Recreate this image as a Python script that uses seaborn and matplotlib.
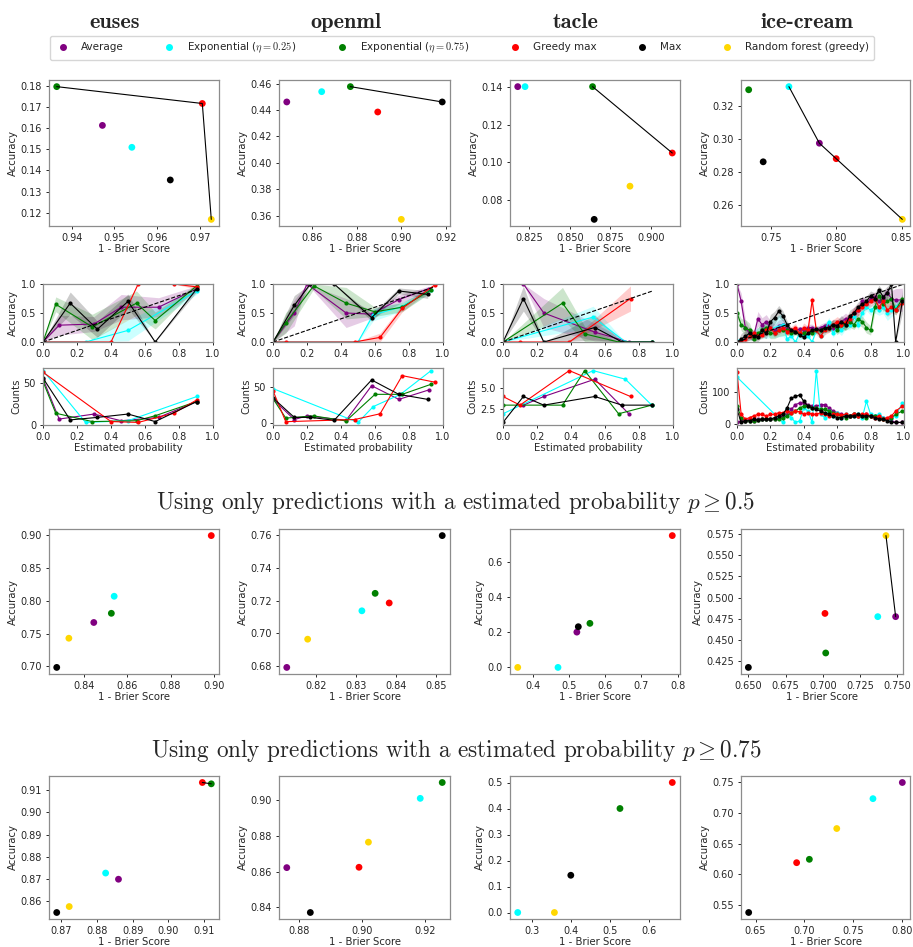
import numpy as np
import pandas as pd
import matplotlib
matplotlib.use('Agg')
import matplotlib.pyplot as plt
import seaborn as sns
from matplotlib.lines import Line2D

methods = ['Average', r'Exponential ($\eta = 0.25$)', r'Exponential ($\eta = 0.75$)',
           'Greedy max', 'Max', 'Random forest (greedy)']
colors = ['purple', 'cyan', 'green', 'red', 'black', 'gold']
datasets = ['euses', 'openml', 'tacle', 'ice-cream']
nan = np.nan

# --- scatter rows: one list per dataset, values in method order ---
all_brier = [[0.9472, 0.9541, 0.9365, 0.9706, 0.9631, 0.9727],
             [0.8485, 0.8642, 0.8771, 0.8894, 0.9184, 0.9000],
             [0.818, 0.8225, 0.864, 0.913, 0.865, 0.887],
             [0.7871, 0.7638, 0.733, 0.800, 0.7441, 0.8506]]
all_acc = [[0.1614, 0.1510, 0.1798, 0.1718, 0.1355, 0.1168],
           [0.4461, 0.4539, 0.4577, 0.4385, 0.4461, 0.3572],
           [0.140, 0.140, 0.140, 0.105, 0.070, 0.0875],
           [0.2973, 0.3317, 0.3298, 0.2879, 0.286, 0.251]]

p50_brier = [[0.8446, 0.854, 0.8527, 0.8988, 0.8275, 0.8331],
             [0.8128, 0.8315, 0.8348, 0.8383, 0.8515, 0.818],
             [0.522, 0.47, 0.558, 0.785, 0.526, 0.359],
             [0.749, 0.737, 0.702, 0.7015, 0.650, 0.7425]]
p50_acc = [[0.767, 0.807, 0.781, 0.8995, 0.6985, 0.743],
           [0.679, 0.7137, 0.7244, 0.7185, 0.7598, 0.6963],
           [0.2, 0.0, 0.2497, 0.747, 0.2306, 0.0],
           [0.4775, 0.4775, 0.4347, 0.4813, 0.4177, 0.573]]

p75_brier = [[0.886, 0.8824, 0.912, 0.9095, 0.8687, 0.8722],
             [0.876, 0.9185, 0.9255, 0.899, 0.8835, 0.902],
             [nan, 0.264, 0.526, 0.66, 0.4, 0.358],
             [0.800, 0.770, 0.705, 0.692, 0.643, 0.733]]
p75_acc = [[0.8697, 0.8725, 0.913, 0.9136, 0.8546, 0.8573],
           [0.8622, 0.9011, 0.91, 0.8624, 0.837, 0.8765],
           [nan, 0.0, 0.4, 0.5, 0.1432, 0.0],
           [0.75, 0.7236, 0.6245, 0.619, 0.5376, 0.6748]]

# --- calibration (first five methods) ---
euses_bins = [[0.0, 0.095, 0.30, 0.46, 0.68, 0.905],
              [0.0, 0.25, 0.50, 0.905],
              [0.0, 0.075, 0.29, 0.55, 0.66, 0.905],
              [0.0, 0.40, 0.56, 0.77, 0.905],
              [0.0, 0.16, 0.32, 0.50, 0.66, 0.905]]
euses_cal = [[0.0, 0.29, 0.31, 0.60, 0.60, 0.92],
             [0.0, 0.0, 0.20, 0.88],
             [0.0, 0.65, 0.26, 0.67, 0.37, 0.97],
             [0.0, 0.0, 1.0, 1.0, 0.95],
             [0.0, 0.67, 0.22, 0.70, 0.0, 0.92]]
euses_counts = [[55, 7, 13, 5, 9, 28],
                [65, 3, 5, 34],
                [52, 14, 4, 5, 11, 28],
                [63, 4, 3, 14, 30],
                [56, 6, 9, 13, 4, 28]]

openml_bins = [[0.0, 0.125, 0.20, 0.43, 0.58, 0.74, 0.915],
               [0.0, 0.50, 0.59, 0.75, 0.93],
               [0.0, 0.075, 0.24, 0.43, 0.60, 0.76, 0.93],
               [0.0, 0.075, 0.48, 0.63, 0.76, 0.95],
               [0.0, 0.125, 0.22, 0.36, 0.58, 0.74, 0.91]]
openml_cal = [[0.0, 0.5, 1.0, 0.5, 0.48, 0.73, 0.92],
              [0.0, 0.0, 0.47, 0.6, 0.90],
              [0.0, 0.33, 0.97, 0.67, 0.52, 0.60, 0.90],
              [0.0, 0.0, 0.0, 0.08, 0.58, 0.98],
              [0.0, 0.63, 1.0, 1.0, 0.42, 0.88, 0.82]]
openml_counts = [[33, 5, 10, 4, 52, 33, 46],
                 [48, 1, 23, 40, 73],
                 [34, 7, 10, 3, 40, 40, 54],
                 [45, 2, 5, 13, 66, 57],
                 [35, 8, 8, 4, 60, 40, 33]]

tacle_bins = [[0.12, 0.24, 0.54, 0.74],
              [0.0, 0.53, 0.72, 0.875],
              [0.0, 0.35, 0.48, 0.68, 0.875],
              [0.0, 0.10, 0.39, 0.75],
              [0.0, 0.12, 0.24, 0.54, 0.70, 0.875]]
tacle_cal = [[1.0, 0.5, 0.17, 0.0],
             [0.0, 0.43, 0.0, 0.0],
             [0.0, 0.67, 0.14, 0.0, 0.0],
             [0.0, 0.0, 0.0, 0.75],
             [0.0, 0.75, 0.0, 0.25, 0.0, 0.0]]
tacle_counts = [[3, 4, 6, 2],
                [2, 7, 6, 3],
                [3, 3, 7, 2, 3],
                [4, 3, 7, 4],
                [1, 4, 3, 4, 3, 3]]

ice_grid = [0.0, 0.025, 0.05, 0.075, 0.1, 0.125, 0.15, 0.175, 0.2, 0.225,
            0.25, 0.275, 0.3, 0.325, 0.35, 0.375, 0.4, 0.425, 0.45, 0.475,
            0.5, 0.525, 0.55, 0.575, 0.6, 0.625, 0.65, 0.675, 0.7, 0.725,
            0.75, 0.775, 0.8, 0.825, 0.85, 0.875, 0.9, 0.925, 0.95, 0.99]
ice_cal = [
    [1.0, 0.7, 0.25, 0.15, 0.1, 0.4, 0.3, 0.35, 0.25, 0.2,
     0.28, 0.3, 0.22, 0.18, 0.2, 0.22, 0.2, 0.25, 0.25, 0.2,
     0.25, 0.28, 0.3, 0.25, 0.3, 0.35, 0.4, 0.35, 0.5, 0.55,
     0.7, 0.65, 0.75, 0.78, 0.7, 0.75, 0.85, 0.75, 0.72, 0.73],
    [0.02, nan, nan, nan, nan, nan, nan, nan, nan, nan,
     nan, 0.3, 0.05, 0.1, 0.0, 0.15, 0.1, 0.1, 0.0, 0.2,
     0.1, 0.2, 0.35, 0.15, 0.25, 0.2, 0.3, 0.3, 0.45, 0.3,
     0.5, 0.6, 0.55, 0.6, 0.55, 0.6, 0.5, 0.55, 0.6, 0.7],
    [0.5, 0.3, 0.25, 0.2, 0.05, 0.15, 0.2, 0.25, 0.15, 0.15,
     0.2, 0.2, 0.2, 0.15, 0.18, 0.15, 0.15, 0.2, 0.15, 0.2,
     0.2, 0.22, 0.25, 0.3, 0.2, 0.3, 0.3, 0.35, 0.3, 0.4,
     0.35, 0.25, 0.2, 0.6, 0.8, 0.65, 0.7, 0.75, 0.55, 0.75],
    [0.0, 0.02, 0.05, 0.1, 0.15, 0.1, 0.12, 0.2, 0.25, 0.15,
     0.2, 0.25, 0.18, 0.2, 0.25, 0.15, 0.25, 0.2, 0.72, 0.2,
     0.1, 0.2, 0.25, 0.3, 0.35, 0.3, 0.35, 0.4, 0.5, 0.55,
     0.6, 0.65, 0.7, 0.75, 0.6, 0.7, 0.55, 0.6, 0.55, 0.68],
    [0.0, 0.05, 0.1, 0.15, 0.1, 0.08, 0.2, 0.15, 0.35, 0.42,
     0.53, 0.45, 0.3, 0.2, 0.18, 0.12, 0.08, 0.15, 0.2, 0.22,
     0.2, 0.25, 0.25, 0.3, 0.28, 0.35, 0.3, 0.45, 0.5, 0.6,
     0.65, 0.7, 0.8, 0.75, 0.9, 0.78, 0.85, 1.0, 0.0, 0.7]]
ice_counts = [
    [5, 10, 10, 15, 10, 15, 15, 15, 15, 15,
     20, 25, 30, 45, 60, 65, 65, 60, 55, 55,
     60, 60, 50, 40, 35, 30, 25, 25, 30, 25,
     25, 30, 25, 25, 25, 20, 15, 10, 5, 5],
    [145, nan, nan, nan, nan, nan, nan, nan, nan, nan,
     nan, 5, 45, 20, 5, 10, 50, 40, 5, 165,
     30, 20, 40, 25, 35, 20, 30, 25, 25, 30,
     20, 70, 30, 25, 30, 20, 15, 20, 25, 65],
    [57, 20, 10, 10, 10, 12, 15, 15, 15, 15,
     15, 20, 25, 35, 40, 50, 55, 55, 50, 50,
     45, 45, 40, 35, 30, 25, 20, 25, 30, 25,
     25, 20, 25, 25, 20, 15, 15, 20, 30, 40],
    [160, 30, 15, 20, 25, 30, 30, 25, 30, 30,
     35, 35, 40, 35, 40, 38, 30, 35, 30, 30,
     35, 30, 25, 30, 30, 28, 30, 25, 30, 25,
     30, 30, 25, 20, 25, 15, 20, 25, 40, 55],
    [45, 5, 10, 10, 15, 12, 15, 15, 15, 20,
     25, 30, 50, 80, 85, 90, 70, 55, 50, 45,
     40, 35, 30, 25, 20, 20, 25, 25, 25, 30,
     25, 25, 25, 20, 15, 15, 10, 5, 5, 5]]

cal_bins = [euses_bins, openml_bins, tacle_bins, [ice_grid] * 5]
cal_acc = [euses_cal, openml_cal, tacle_cal, ice_cal]
cal_counts = [euses_counts, openml_counts, tacle_counts, ice_counts]
count_ticks = [[0, 50], [0, 50], [2.5, 5.0], [0, 100]]

sns.set_style('ticks')
plt.rcParams.update({
    'font.family': ['DejaVu Sans'],
    'mathtext.fontset': 'cm',
    'axes.edgecolor': '0.55',
    'axes.linewidth': 0.9,
    'xtick.labelsize': 7,
    'ytick.labelsize': 7,
    'axes.labelsize': 7.3,
    'xtick.major.size': 2.5,
    'ytick.major.size': 2.5,
    'xtick.major.width': 0.7,
    'ytick.major.width': 0.7,
    'xtick.major.pad': 2.5,
    'ytick.major.pad': 2.5,
})

W, H = 913, 947
fig = plt.figure(figsize=(W / 100, H / 100), dpi=100)


def box(x0, x1, y0, y1):
    return [x0 / W, 1 - y1 / H, (x1 - x0) / W, (y1 - y0) / H]


scatter_cols = [(49, 219), (279, 450), (510, 680), (741, 910)]
cal_cols = [(43, 213), (273, 443), (503, 673), (737, 904)]


def pareto(df):
    df = df.dropna().sort_values('brier', ascending=False)
    keep, best = [], -np.inf
    for i, r in df.iterrows():
        if r['acc'] > best:
            keep.append(i)
            best = r['acc']
    return df.loc[keep].sort_values('brier')


def draw_scatter(ax, bx, acc):
    df = pd.DataFrame({'brier': bx, 'acc': acc, 'method': methods})
    sns.scatterplot(data=df.dropna(), x='brier', y='acc', hue='method', hue_order=methods,
                    palette=colors, s=24, linewidth=0, legend=False, ax=ax, zorder=2)
    front = pareto(df)
    if len(front) > 1:
        ax.plot(front['brier'], front['acc'], color='black', lw=0.8, zorder=3)
    ax.set_xlabel('1 - Brier Score', labelpad=0.5)
    ax.set_ylabel('Accuracy', labelpad=2)


rows = [(80, 226, all_brier, all_acc), (529, 674, p50_brier, p50_acc),
        (776, 919, p75_brier, p75_acc)]
for r, (y0, y1, bx, acc) in enumerate(rows):
    for j, (x0, x1) in enumerate(scatter_cols):
        if r == 1 and j == 3:
            x1 = 903
        ax = fig.add_axes(box(x0, x1, y0, y1))
        draw_scatter(ax, bx[j], acc[j])

for j, (x0, x1) in enumerate(cal_cols):
    ax_a = fig.add_axes(box(x0, x1, 284, 342))
    ax_c = fig.add_axes(box(x0, x1, 368, 425))
    top = 0
    for k in range(5):
        df = pd.DataFrame({'p': cal_bins[j][k], 'acc': cal_acc[j][k],
                           'n': cal_counts[j][k]}).dropna()
        top = max(top, df['p'].max())
        se = np.sqrt(df['acc'] * (1 - df['acc']) / df['n'])
        ax_a.fill_between(df['p'], (df['acc'] - se).clip(0, 1), (df['acc'] + se).clip(0, 1),
                          color=colors[k], alpha=0.2, lw=0)
        sns.lineplot(data=df, x='p', y='acc', ax=ax_a, color=colors[k], marker='o',
                     markersize=3, markeredgewidth=0, lw=0.8, estimator=None, sort=False)
        sns.lineplot(data=df, x='p', y='n', ax=ax_c, color=colors[k], marker='o',
                     markersize=3, markeredgewidth=0, lw=0.8, estimator=None, sort=False)
    ax_a.plot([0, top], [0, top], color='black', ls='--', lw=0.8)
    ax_a.set_xlim(0, 1)
    ax_a.set_ylim(0, 1)
    ax_a.set_xlabel('')
    ax_a.set_ylabel('Accuracy', labelpad=2)
    ax_c.set_xlim(0, 1)
    ax_c.set_yticks(count_ticks[j])
    ax_c.set_xlabel('Estimated probability', labelpad=1)
    ax_c.set_ylabel('Counts', labelpad=2)

for j, (x0, x1) in enumerate(scatter_cols):
    fig.text(((x0 + x1) / 2 - 19) / W, 1 - 22 / H, datasets[j], family='cmb10',
             size=16, ha='center', va='center')

fig.text(456 / W, 1 - 503 / H,
         r'Using only predictions with a estimated probability $p \geq 0.5$',
         family='cmr10', size=16.7, ha='center', va='center')
fig.text(456 / W, 1 - 750 / H,
         r'Using only predictions with a estimated probability $p \geq 0.75$',
         family='cmr10', size=16.7, ha='center', va='center')

handles = [Line2D([], [], marker='o', ls='', color=c, markersize=4) for c in colors]
fig.legend(handles, methods, loc='center', bbox_to_anchor=(462 / W, 1 - 48 / H), ncol=6,
           fontsize=7.5, columnspacing=3.6, handlelength=1.5, handletextpad=1.0,
           borderpad=0.5, frameon=True)

fig.savefig('out.png', dpi=100)
